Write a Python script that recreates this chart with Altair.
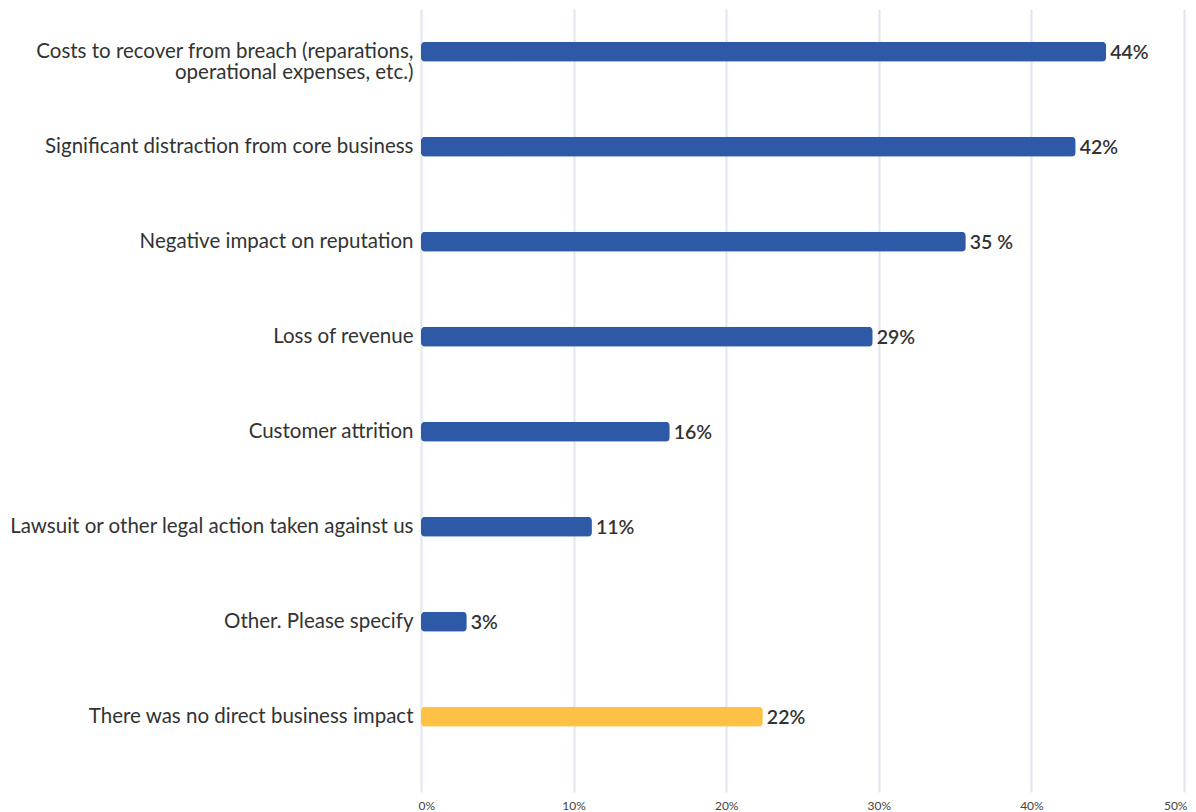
import altair as alt
import pandas as pd

categories = [
    "Costs to recover from breach (reparations,|operational expenses, etc.)",
    "Significant distraction from core business",
    "Negative impact on reputation",
    "Loss of revenue",
    "Customer attrition",
    "Lawsuit or other legal action taken against us",
    "Other. Please specify",
    "There was no direct business impact",
]
values = [44.9, 42.9, 35.7, 29.6, 16.3, 11.2, 3.0, 22.4]
value_labels = ["44%", "42%", "35 %", "29%", "16%", "11%", "3%", "22%"]
kinds = ["impact"] * 7 + ["none"]
x_ticks = [0, 10, 20, 30, 40, 50]

df = pd.DataFrame({"cat": categories, "val": values, "lab": value_labels, "kind": kinds})

FONT = "Lato"

y_enc = alt.Y(
    "cat:N",
    sort=categories,
    title=None,
    scale=alt.Scale(paddingInner=0.79, paddingOuter=0.516, align=0.334),
    axis=alt.Axis(
        labelExpr="split(datum.label, '|')",
        labelFontSize=20.5,
        labelFont=FONT,
        labelColor="#333333",
        labelLimit=600,
        labelPadding=8,
        labelLineHeight=21.5,
        ticks=False,
        domain=False,
        grid=False,
    ),
)

x_enc = alt.X(
    "val:Q",
    title=None,
    scale=alt.Scale(domain=[0, 50], nice=False),
    axis=alt.Axis(
        values=x_ticks,
        labelExpr="datum.value + '%'",
        labelFontSize=12,
        labelFont=FONT,
        labelColor="#444444",
        labelPadding=8,
        labelFlush=True,
        labelFlushOffset=3,
        ticks=False,
        domain=False,
        grid=True,
        gridColor="#e3e6f0",
        gridWidth=2,
    ),
)

base = alt.Chart(df).encode(x=x_enc, y=y_enc)

bars = base.mark_bar(cornerRadius=4).encode(
    color=alt.Color(
        "kind:N",
        scale=alt.Scale(domain=["impact", "none"], range=["#2e59a7", "#fec146"]),
        legend=None,
    ),
)

text = base.mark_text(
    align="left", baseline="middle", dx=4, dy=1, fontSize=19.5, font=FONT,
    fontWeight=600, color="#333333"
).encode(text="lab:N")

chart = (
    alt.layer(bars, text)
    .properties(width=763, height=783,
                view=alt.ViewBackground(stroke="transparent", strokeWidth=0),
                padding={"left": 0, "top": 1, "right": 0, "bottom": 0})
    .configure_view(stroke="transparent", strokeWidth=0)
    .configure_axis(domain=False)
    .configure(background="white")
)

chart.save("out.html", embed_options={"renderer": "svg", "actions": False})
